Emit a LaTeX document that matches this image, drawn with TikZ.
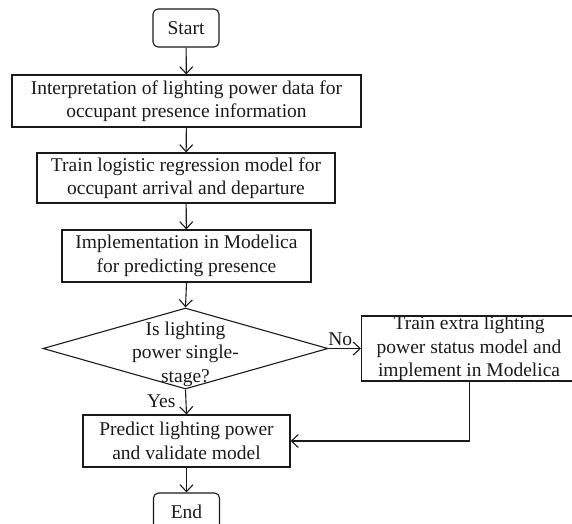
\documentclass[tikz,border=0pt]{standalone}
\usepackage{fontspec}
\setmainfont{Liberation Serif}
\usepackage{tikz}
\usetikzlibrary{positioning,arrows.meta,shapes.geometric}
\definecolor{ink}{HTML}{1A1A1A}
\tikzset{
  flow/.style={-{Straight Barb[length=7pt,width=13pt]}, line width=1.1pt, color=ink},
  term/.style={rounded corners=5pt, draw=ink, line width=1.1pt, minimum width=66pt,
    minimum height=38pt, inner sep=0pt, text=ink},
  proc/.style={draw=ink, line width=1.1pt, align=center, inner sep=0pt, text=ink},
  dec/.style={diamond, draw=ink, line width=1.1pt, inner sep=0pt, text=ink},
  txt/.style={font=\fontsize{19.5}{23.5}\selectfont, text=ink},
}

\begin{document}
\begin{tikzpicture}[x=1pt,y=-1pt,every node/.append style={txt}]
  \useasboundingbox (0,0) rectangle (572,523);
  \node[term] (start) at (186,28) {Start};
  \node[proc,minimum width=349pt,minimum height=52pt] (interp) at (186.5,101)
    {Interpretation of lighting power data for\\occupant presence information};
  \node[proc,minimum width=298pt,minimum height=50pt] (train) at (186,178)
    {Train logistic regression model for\\occupant arrival and departure};
  \node[proc,minimum width=249pt,minimum height=52pt] (impl) at (186.5,256)
    {Implementation in Modelica\\for predicting presence};
  \node[dec,minimum width=285pt,minimum height=81pt,
    label={[align=center,txt,yshift=-5.5pt]center:Is lighting\\power single-\\stage?}] (single) at (185.5,348.5) {};
  \node[proc,minimum height=65pt,anchor=west] (extra) at (361,348.5)
    {\parbox{215pt}{\centering Train extra lighting\\power status model and\\implement in Modelica}\hspace{16pt}};
  \node[proc,minimum width=207pt,minimum height=52pt] (predict) at (186.5,441)
    {Predict lighting power\\and validate model};
  \node[term] (end) at (186.5,512) {End};

  \draw[flow] (start) -- (interp);
  \draw[flow] (interp) -- (train);
  \draw[flow] (train) -- (impl);
  \draw[flow] (impl.south) -- (single.north);
  \draw[flow] (single.east) -- node[above,pos=0.36,inner sep=2pt] {No} (extra.west);
  \draw[flow] (single.south) -- node[left,inner sep=10pt,yshift=1pt] {Yes} (predict.north);
  \draw[flow] ([xshift=-8pt]extra.south) |- (predict.east);
  \draw[flow] (predict) -- (end);
\end{tikzpicture}
\end{document}
